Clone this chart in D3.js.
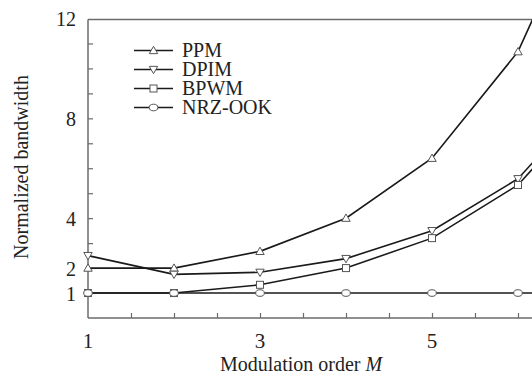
<!DOCTYPE html>
<html>
<head>
<meta charset="utf-8">
<script src="https://cdn.jsdelivr.net/npm/d3@7"></script>
<style>
  body { margin: 0; background: #fff; }
  svg { display: block; }
  text { font-family: "Liberation Serif", "DejaVu Serif", serif; fill: #222; }
</style>
</head>
<body>
<div id="chart"></div>
<script>
// modulation order M
const orders = [1, 2, 3, 4, 5, 6, 7];
// normalized bandwidth per scheme
const ppm = [2, 2, 2.67, 4, 6.4, 10.67, 18.3];
const dpim = [2.5, 1.75, 1.83, 2.38, 3.5, 5.58, 9.36];
const bpwm = [1, 1, 1.33, 2, 3.2, 5.33, 9.14];
const nrz = [1, 1, 1, 1, 1, 1, 1];

const seriesNames = ['PPM', 'DPIM', 'BPWM', 'NRZ-OOK'];
const seriesValues = [ppm, dpim, bpwm, nrz];
const seriesMarkers = ['up', 'down', 'square', 'circle'];

const yTickLabels = [1, 2, 4, 8, 12];
const xTickLabels = [1, 3, 5];

const width = 532, height = 374;
const plotLeft = 88, plotTop = 19.5, plotBottom = 318;

const svg = d3.select('#chart').append('svg')
    .attr('width', width)
    .attr('height', height);

const x = d3.scaleLinear().domain([1, 6]).range([plotLeft, 518]);
const y = d3.scaleLinear().domain([0, 12]).range([plotBottom, 18.5]);

const axisColor = '#6b6b6b';

// clip region for the data
svg.append('clipPath').attr('id', 'plot-clip')
    .append('rect')
    .attr('x', plotLeft - 6).attr('y', plotTop)
    .attr('width', width - plotLeft + 6).attr('height', plotBottom - plotTop);

// frame: left, bottom, top
svg.append('line').attr('x1', plotLeft).attr('x2', plotLeft).attr('y1', plotTop).attr('y2', plotBottom)
    .attr('stroke', axisColor).attr('stroke-width', 1.5);
svg.append('line').attr('x1', plotLeft).attr('x2', width).attr('y1', plotBottom).attr('y2', plotBottom)
    .attr('stroke', axisColor).attr('stroke-width', 1.5);
svg.append('line').attr('x1', plotLeft).attr('x2', width).attr('y1', plotTop).attr('y2', plotTop)
    .attr('stroke', axisColor).attr('stroke-width', 1.5);

// inner ticks on y axis (every unit)
const yAxis = d3.axisRight(y)
    .tickValues(d3.range(1, 12))
    .tickSize(5)
    .tickFormat('');
const gy = svg.append('g').attr('transform', `translate(${plotLeft},0)`).call(yAxis);
gy.select('.domain').remove();
gy.selectAll('line').attr('stroke', axisColor).attr('stroke-width', 1.2);

// inner ticks on x axis (every half unit)
const xAxis = d3.axisTop(x)
    .tickValues(d3.range(1.5, 6.5, 0.5))
    .tickSize(5)
    .tickFormat('');
const gx = svg.append('g').attr('transform', `translate(0,${plotBottom})`).call(xAxis);
gx.select('.domain').remove();
gx.selectAll('line').attr('stroke', axisColor).attr('stroke-width', 1.2);

// tick labels
svg.append('g').selectAll('text')
    .data(yTickLabels)
    .enter().append('text')
    .attr('x', 76)
    .attr('y', d => y(d))
    .attr('dy', '0.38em')
    .attr('text-anchor', 'end')
    .style('font-size', '20px')
    .text(d => d);

svg.append('g').selectAll('text')
    .data(xTickLabels)
    .enter().append('text')
    .attr('x', d => x(d))
    .attr('y', 348)
    .attr('text-anchor', 'middle')
    .style('font-size', '21px')
    .text(d => d);

// axis titles
const xt = svg.append('text')
    .attr('x', 220).attr('y', 371)
    .attr('text-anchor', 'start')
    .style('font-size', '20px');
xt.append('tspan').text('Modulation order ');
xt.append('tspan').style('font-style', 'italic').text('M');

svg.append('text')
    .attr('transform', 'translate(28,167) rotate(-90)')
    .attr('text-anchor', 'middle')
    .style('font-size', '20px')
    .text('Normalized bandwidth');

// marker drawing
function drawMarker(g, type, cx, cy) {
    const s = 4.2;
    if (type === 'up') {
        g.append('path')
            .attr('d', `M${cx},${cy - s}L${cx + s},${cy + s * 0.75}L${cx - s},${cy + s * 0.75}Z`);
    } else if (type === 'down') {
        g.append('path')
            .attr('d', `M${cx},${cy + s}L${cx + s},${cy - s * 0.75}L${cx - s},${cy - s * 0.75}Z`);
    } else if (type === 'square') {
        g.append('rect')
            .attr('x', cx - 3.5).attr('y', cy - 3.5)
            .attr('width', 7).attr('height', 7);
    } else {
        g.append('ellipse')
            .attr('cx', cx).attr('cy', cy)
            .attr('rx', 4.3).attr('ry', 3.3);
    }
}

const plot = svg.append('g').attr('clip-path', 'url(#plot-clip)');
const line = d3.line()
    .x((d, i) => x(orders[i]))
    .y(d => y(d));

seriesValues.forEach((vals, k) => {
    plot.append('path')
        .datum(vals)
        .attr('fill', 'none')
        .attr('stroke', '#1a1a1a')
        .attr('stroke-width', 1.6)
        .attr('d', line);
});

seriesValues.forEach((vals, k) => {
    const g = plot.append('g')
        .attr('fill', '#fff')
        .attr('stroke', '#555')
        .attr('stroke-width', 1);
    vals.forEach((v, i) => {
        if (orders[i] > 6) return;
        drawMarker(g, seriesMarkers[k], x(orders[i]), y(v));
    });
});

// legend
const legendRows = [50.5, 69.5, 88.5, 107.5];
const legend = svg.append('g');
seriesNames.forEach((name, k) => {
    const ry = legendRows[k];
    legend.append('line')
        .attr('x1', 134).attr('x2', 173)
        .attr('y1', ry).attr('y2', ry)
        .attr('stroke', '#1a1a1a').attr('stroke-width', 1.6);
    const g = legend.append('g')
        .attr('fill', '#fff').attr('stroke', '#555').attr('stroke-width', 1);
    drawMarker(g, seriesMarkers[k], 153.5, ry);
    legend.append('text')
        .attr('x', 182).attr('y', ry)
        .attr('dy', '0.34em')
        .style('font-size', '20px')
        .text(name);
});
</script>
</body>
</html>
